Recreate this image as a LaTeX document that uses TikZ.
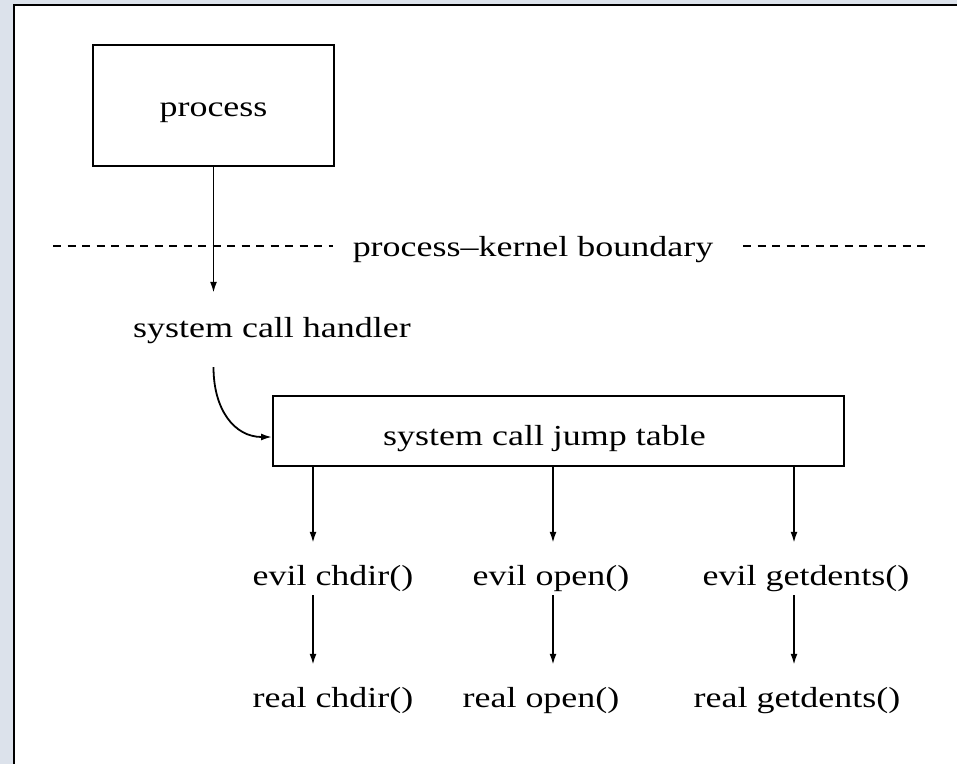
\documentclass[tikz,border=0pt]{standalone}
\usepackage{fontspec}
\setmainfont{Liberation Serif}[FakeStretch=1.24]
\usetikzlibrary{arrows.meta}
\definecolor{bgblue}{RGB}{220,226,235}
\begin{document}
\begin{tikzpicture}[x=1pt,y=-1pt,
  lbl/.style={inner xsep=0pt, inner ysep=4pt, text height=20pt, text depth=6pt,
              anchor=base, font=\fontsize{29}{34}\selectfont},
  box/.style={draw, line width=2pt, inner sep=0pt, text height=20pt, text depth=6pt,
              font=\fontsize{29}{34}\selectfont},
  arr/.style={line width=1.8pt, -{Latex[length=11pt,width=7pt]}},
  bdash/.style={line width=1.5pt, dash pattern=on 8pt off 6.5pt},
]
\useasboundingbox (0,0) rectangle (957,763);
\fill[bgblue] (-5,-5) rectangle (965,770);
\fill[white] (14,5) rectangle (965,770);
\draw[line width=2pt] (14,770) -- (14,5) -- (965,5);

% process box
\node[box, minimum width=241pt, minimum height=121pt] (proc) at (213.5,105.5)
  {\raisebox{-3.5pt}{process}};

% boundary
\node[lbl] (bound) at (533,256) {process–kernel boundary};
\coordinate (dl1) at (53,246);
\coordinate (dl2) at (333,246);
\coordinate (dr1) at (743,246);
\coordinate (dr2) at (930,246);
\draw[bdash] (dl1) -- (dl2);
\draw[bdash] (dr1) -- (dr2);

% handler
\node[lbl] (hand) at (272,337) {system call handler};
\draw[arr, shorten >=20pt] (proc.south) -- (proc.south |- hand.north);

% jump table
\node[box, minimum width=571pt, minimum height=70pt] (table) at (558.5,431)
  {\hspace*{-28pt}\raisebox{-7pt}{system call jump table}};
\draw[arr, shorten <=20pt] (proc.south |- hand.south)
  .. controls +(0,62) and +(-38,0) .. ([yshift=-6pt]table.west);

% evil / real labels
\node[lbl] (e1) at (333,585) {evil chdir()};
\node[lbl] (e2) at (551,585) {evil open()};
\node[lbl] (e3) at (806,585) {evil getdents()};
\node[lbl] (r1) at (333,707) {real chdir()};
\node[lbl] (r2) at (541,707) {real open()};
\node[lbl] (r3) at (797,707) {real getdents()};

\coordinate (c1) at (313,0);
\coordinate (c2) at (553,0);
\coordinate (c3) at (794,0);

\draw[arr, shorten >=18pt] (table.south -| c1) -- (e1.north -| c1);
\draw[arr, shorten >=18pt] (table.south -| c2) -- (e2.north -| c2);
\draw[arr, shorten >=18pt] (table.south -| c3) -- (e3.north -| c3);
\draw[arr, shorten >=18pt] (e1.south -| c1) -- (r1.north -| c1);
\draw[arr, shorten >=18pt] (e2.south -| c2) -- (r2.north -| c2);
\draw[arr, shorten >=18pt] (e3.south -| c3) -- (r3.north -| c3);
\end{tikzpicture}
\end{document}
